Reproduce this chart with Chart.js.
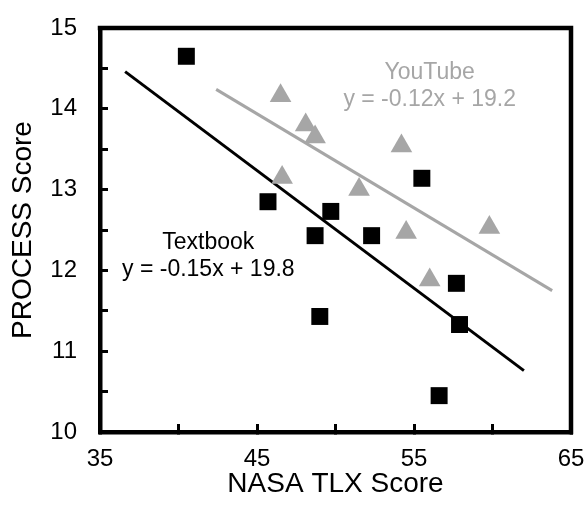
<!DOCTYPE html>
<html>
<head>
<meta charset="utf-8">
<script src="https://cdn.jsdelivr.net/npm/chart.js@4/dist/chart.umd.min.js"></script>
<style>
  html, body { margin: 0; padding: 0; background: #fff; overflow: hidden; }
  #wrap { width: 587px; height: 509px; position: relative; }
</style>
</head>
<body>
<div id="wrap"><canvas id="chart"></canvas></div>
<script>
const textbookX = [40.5, 45.7, 49.7, 48.7, 52.3, 49.0, 55.5, 57.7, 57.9, 56.6];
const textbookY = [14.65, 12.85, 12.73, 12.43, 12.43, 11.43, 13.14, 11.84, 11.33, 10.45];
const youtubeX = [46.5, 48.1, 48.7, 46.6, 54.2, 51.5, 54.5, 56.0, 59.8];
const youtubeY = [14.16, 13.80, 13.65, 13.15, 13.54, 13.00, 12.47, 11.88, 12.53];

// trend line end points
const textbookFitX = [36.6, 62.0];
const textbookFitY = [14.46, 10.76];
const youtubeFitX = [42.4, 63.8];
const youtubeFitY = [14.24, 11.75];

const xTickLabels = [35, 45, 55, 65];
const yTickLabels = [10, 11, 12, 13, 14, 15];

const GRAY = '#a6a6a6';
const FONT = "'Liberation Sans', Arial, sans-serif";

const pts = (xs, ys) => xs.map((x, i) => ({ x: x, y: ys[i] }));

// equation labels, placed in data units
const notes = [
    { lines: ['YouTube', 'y = -0.12x + 19.2'], x: 56.0, y: 14.45, color: GRAY },
    { lines: ['Textbook', 'y = -0.15x + 19.8'], x: 41.9, y: 12.34, color: '#000' }
];

const notePlugin = {
    id: 'notes',
    afterDatasetsDraw(chart) {
        const ctx = chart.ctx;
        const xs = chart.scales.x, ys = chart.scales.y;
        ctx.save();
        ctx.font = '23px ' + FONT;
        ctx.textAlign = 'center';
        ctx.textBaseline = 'middle';
        notes.forEach(n => {
            const px = xs.getPixelForValue(n.x);
            const py = ys.getPixelForValue(n.y);
            ctx.fillStyle = n.color;
            n.lines.forEach((t, i) => ctx.fillText(t, px, py + i * 27));
        });
        ctx.restore();
    }
};

// top and right sides of the box
const framePlugin = {
    id: 'frame',
    afterDraw(chart) {
        const { ctx, chartArea: a } = chart;
        ctx.save();
        ctx.strokeStyle = '#000';
        ctx.lineWidth = 4.5;
        ctx.lineCap = 'square';
        ctx.beginPath();
        ctx.moveTo(a.left, a.top);
        ctx.lineTo(a.right, a.top);
        ctx.lineTo(a.right, a.bottom);
        ctx.stroke();
        ctx.restore();
    }
};

new Chart(document.getElementById('chart'), {
    type: 'scatter',
    data: {
        datasets: [
            {
                label: 'Textbook',
                data: pts(textbookX, textbookY),
                pointStyle: 'rect',
                pointRadius: 12,
                pointBackgroundColor: '#000',
                pointBorderWidth: 0,
                order: 0
            },
            {
                label: 'YouTube',
                data: pts(youtubeX, youtubeY),
                pointStyle: 'triangle',
                pointRadius: 12.5,
                pointBackgroundColor: GRAY,
                pointBorderWidth: 0,
                order: 0
            },
            {
                label: 'Textbook fit',
                data: pts(textbookFitX, textbookFitY),
                showLine: true,
                borderColor: '#000',
                borderWidth: 3,
                pointRadius: 0,
                order: 1
            },
            {
                label: 'YouTube fit',
                data: pts(youtubeFitX, youtubeFitY),
                showLine: true,
                borderColor: GRAY,
                borderWidth: 3,
                pointRadius: 0,
                order: 1
            }
        ]
    },
    options: {
        responsive: true,
        maintainAspectRatio: false,
        animation: false,
        events: [],
        layout: { autoPadding: false, padding: { top: 28, right: 16, left: 0, bottom: 0 } },
        plugins: {
            legend: { display: false },
            tooltip: { enabled: false }
        },
        scales: {
            x: {
                type: 'linear',
                min: 35,
                max: 65,
                ticks: {
                    stepSize: 5,
                    color: '#000',
                    padding: 21,
                    maxRotation: 0,
                    font: { family: FONT, size: 24 },
                    callback: v => xTickLabels.includes(v) ? String(v) : ''
                },
                grid: { drawOnChartArea: false, tickLength: -8, lineWidth: 3, color: '#000' },
                border: { display: true, color: '#000', width: 4.5 },
                title: {
                    display: true,
                    text: 'NASA TLX Score',
                    color: '#000',
                    font: { family: FONT, size: 28 },
                    padding: { top: 0, bottom: 8 }
                },
                afterFit: s => {
                    s.height = 77;
                    s.paddingLeft = 0;
                    s.paddingRight = 0;
                }
            },
            y: {
                type: 'linear',
                min: 10,
                max: 15,
                ticks: {
                    stepSize: 0.5,
                    color: '#000',
                    padding: 31,
                    font: { family: FONT, size: 24 },
                    callback: v => yTickLabels.includes(v) ? String(v) : ''
                },
                grid: { drawOnChartArea: false, tickLength: -8, lineWidth: 3, color: '#000' },
                border: { display: true, color: '#000', width: 4.5 },
                title: {
                    display: true,
                    text: 'PROCESS Score',
                    color: '#000',
                    font: { family: FONT, size: 28 },
                    padding: { top: 6, bottom: 0 }
                },
                afterFit: s => {
                    s.width = 100;
                    s.paddingTop = 0;
                    s.paddingBottom = 0;
                }
            }
        }
    },
    plugins: [notePlugin, framePlugin]
});
</script>
</body>
</html>
